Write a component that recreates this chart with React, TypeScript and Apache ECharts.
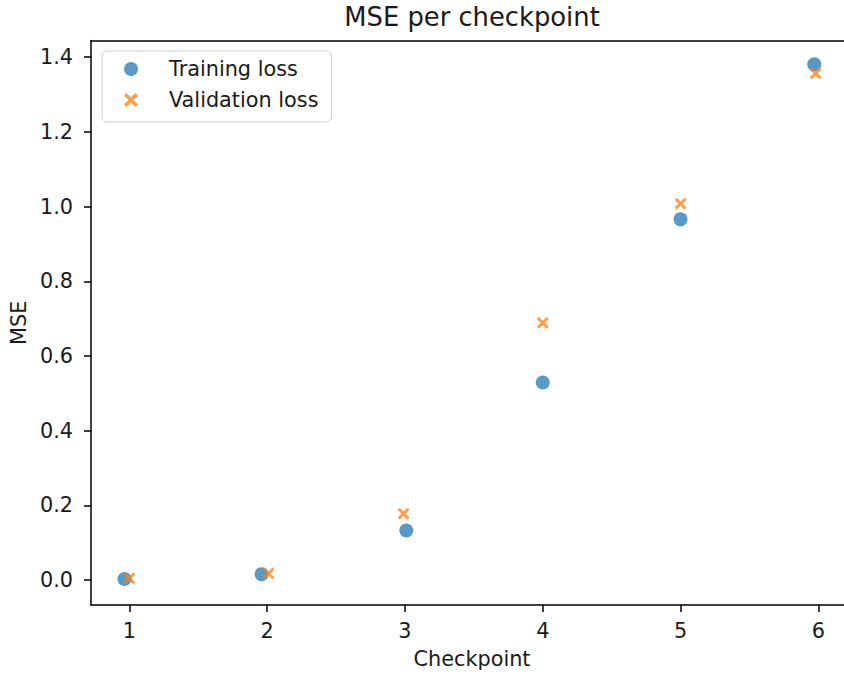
import React, { useEffect, useRef } from "react";
import * as echarts from "echarts";

const checkpointsTrain = [0.965, 1.96, 3.01, 4.0, 5.0, 5.97];
const checkpointsVal = [1.0, 2.01, 2.99, 4.0, 5.0, 5.98];
const trainingLoss = [0.003, 0.016, 0.133, 0.529, 0.966, 1.381];
const validationLoss = [0.005, 0.018, 0.178, 0.689, 1.008, 1.357];
const xTicks = [1, 2, 3, 4, 5, 6];
const yTicks = [0, 0.2, 0.4, 0.6, 0.8, 1.0, 1.2, 1.4];

const X_PATH =
  "path://M1.8,0 L5,3.2 L8.2,0 L10,1.8 L6.8,5 L10,8.2 L8.2,10 L5,6.8 L1.8,10 L0,8.2 L3.2,5 L0,1.8 Z";

const FONT = "DejaVu Sans";
const TXT = "#1a1a1a";

export default function App() {
  const ref = useRef<HTMLDivElement>(null);
  useEffect(() => {
    if (!ref.current) return;
    const chart = echarts.init(ref.current, null, { renderer: "svg" });
    const axisLine = { show: true, onZero: false, lineStyle: { color: "#000", width: 1.5 } };
    chart.setOption({
      animation: false,
      backgroundColor: "#fff",
      title: {
        text: "MSE per checkpoint",
        left: 472,
        top: 4,
        textAlign: "center",
        padding: 0,
        textStyle: { fontFamily: FONT, fontSize: 25.8, fontWeight: "normal", color: TXT },
      },
      legend: {
        orient: "vertical",
        left: 102,
        top: 51,
        padding: [6, 13, 10, 22],
        itemGap: 7,
        itemWidth: 14,
        itemHeight: 14,
        backgroundColor: "rgba(255,255,255,0.8)",
        borderColor: "#d0d0d0",
        borderWidth: 1,
        borderRadius: 5,
        textStyle: {
          fontFamily: FONT,
          fontSize: 20.8,
          color: TXT,
          lineHeight: 24,
          padding: [0, 0, 0, 26],
        },
        data: [
          { name: "Training loss", icon: "circle" },
          { name: "Validation loss", icon: X_PATH },
        ],
      },
      grid: { left: 91, right: 0, top: 40.5, bottom: 63, containLabel: false },
      xAxis: [
        {
          type: "value",
          min: 0.722,
          max: 6.186,
          position: "bottom",
          name: "Checkpoint",
          nameLocation: "middle",
          nameGap: 43,
          nameTextStyle: { fontFamily: FONT, fontSize: 20.8, color: TXT, padding: [0, 0, 0, 9] },
          axisLine,
          splitLine: { show: false },
          axisTick: { show: true, length: 7, customValues: xTicks, lineStyle: { color: "#000", width: 1.5 } },
          axisLabel: {
            customValues: xTicks,
            margin: 15,
            fontFamily: FONT,
            fontSize: 20.8,
            color: TXT,
          },
        },
        {
          type: "value",
          min: 0.722,
          max: 6.186,
          position: "top",
          axisLine,
          axisTick: { show: false },
          axisLabel: { show: false },
          splitLine: { show: false },
        },
      ],
      yAxis: {
        type: "value",
        min: -0.0666,
        max: 1.4448,
        name: "MSE",
        nameLocation: "middle",
        nameRotate: 90,
        nameGap: 59,
        nameTextStyle: { fontFamily: FONT, fontSize: 20.8, color: TXT },
        axisLine,
        splitLine: { show: false },
        axisTick: { show: true, length: 7, customValues: yTicks, lineStyle: { color: "#000", width: 1.5 } },
        axisLabel: {
          customValues: yTicks,
          margin: 18,
          fontFamily: FONT,
          fontSize: 20.8,
          color: TXT,
          formatter: (v: number) => v.toFixed(1),
        },
      },
      series: [
        {
          name: "Training loss",
          type: "scatter",
          symbol: "circle",
          symbolSize: 14,
          itemStyle: { color: "#1f77b4", opacity: 0.75 },
          data: checkpointsTrain.map((x, i) => [x, trainingLoss[i]]),
        },
        {
          name: "Validation loss",
          type: "scatter",
          symbol: X_PATH,
          symbolSize: 12,
          itemStyle: { color: "#ff7f0e", opacity: 0.75 },
          data: checkpointsVal.map((x, i) => [x, validationLoss[i]]),
        },
      ],
    });
    return () => chart.dispose();
  }, []);
  return (
    <div
      ref={ref}
      style={{ position: "fixed", left: 0, top: 0, width: 844, height: 674 }}
    />
  );
}
